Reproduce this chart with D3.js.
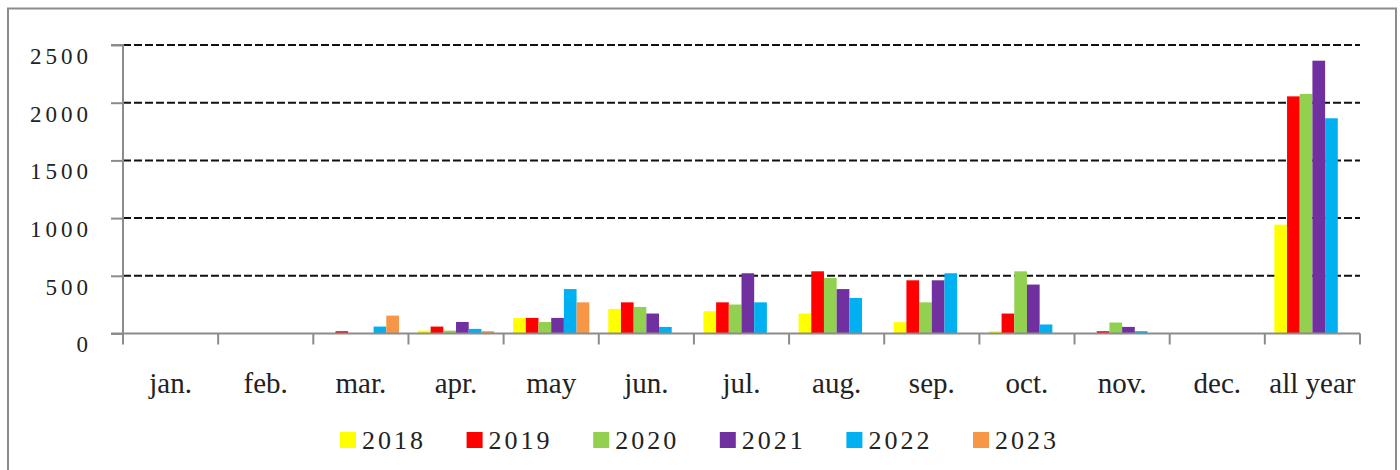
<!DOCTYPE html>
<html>
<head>
<meta charset="utf-8">
<script src="https://cdn.jsdelivr.net/npm/d3@7"></script>
<style>
  body { margin: 0; background: #fff; }
  svg { display: block; }
  text { font-family: "Liberation Serif", "DejaVu Serif", serif; fill: #222; }
</style>
</head>
<body>
<svg id="chart" width="1400" height="470"></svg>
<script>
// categories and series
const months = ['jan.', 'feb.', 'mar.', 'apr.', 'may', 'jun.', 'jul.', 'aug.', 'sep.', 'oct.', 'nov.', 'dec.', 'all year'];
const years = ['2018', '2019', '2020', '2021', '2022', '2023'];
const v2018 = [0, 0, 0, 25, 135, 213, 193, 173, 98, 20, 0, 0, 943];
const v2019 = [0, 0, 20, 60, 135, 270, 270, 539, 461, 173, 20, 0, 2055];
const v2020 = [0, 0, 0, 25, 100, 230, 251, 481, 270, 539, 95, 0, 2076];
const v2021 = [0, 0, 0, 100, 135, 173, 522, 385, 461, 424, 57, 0, 2364];
const v2022 = [0, 0, 60, 40, 385, 57, 270, 308, 522, 78, 20, 0, 1865];
const v2023 = [0, 0, 155, 20, 270, 0, 0, 0, 0, 0, 0, 0, 0];
const yTicks = [0, 500, 1000, 1500, 2000, 2500];
const yTickLabels = ['0', '500', '1000', '1500', '2000', '2500'];
const colors = ['#ffff00', '#ff0000', '#92d050', '#7030a0', '#00b0f0', '#f79646'];

const series = [v2018, v2019, v2020, v2021, v2022, v2023];

let svg = d3.select('#chart');

// outer frame
svg.append('rect')
  .attr('x', 8).attr('y', 8.5)
  .attr('width', 1388).attr('height', 480)
  .attr('fill', 'none')
  .attr('stroke', '#8c8c8c')
  .attr('stroke-width', 2);

let x0 = d3.scaleBand().domain(months).range([123, 1360]);
let x1 = d3.scaleBand().domain(years).range([9.5, x0.bandwidth() - 9.5]);
let y = d3.scaleLinear().domain([0, 2500]).range([333.5, 45]);
let color = d3.scaleOrdinal().domain(years).range(colors);

// dashed gridlines
svg.append('g')
  .selectAll('line')
  .data(yTicks.filter(d => d > 0))
  .enter().append('line')
  .attr('x1', 123).attr('x2', 1360)
  .attr('y1', d => y(d)).attr('y2', d => y(d))
  .attr('stroke', '#111')
  .attr('stroke-width', 2)
  .attr('stroke-dasharray', '8,3');

// bars
let cells = [];
months.forEach(function(m, i) {
  years.forEach(function(yr, j) {
    cells.push({month: m, year: yr, value: series[j][i]});
  });
});

svg.append('g')
  .selectAll('rect')
  .data(cells.filter(d => d.value > 0))
  .enter().append('rect')
  .attr('x', d => x0(d.month) + x1(d.year))
  .attr('width', x1.bandwidth())
  .attr('y', d => y(d.value))
  .attr('height', d => y(0) - y(d.value))
  .attr('fill', d => color(d.year));

// y axis
let yAxis = d3.axisLeft(y)
  .tickValues(yTicks)
  .tickSize(12)
  .tickPadding(19)
  .tickFormat((d, i) => yTickLabels[i]);

let gy = svg.append('g')
  .attr('transform', 'translate(123,0)')
  .call(yAxis);
gy.select('.domain').attr('stroke', '#8c8c8c').attr('stroke-width', 2)
  .attr('d', 'M-12,45H0V' + y(0));
gy.selectAll('.tick line').attr('stroke', '#8c8c8c').attr('stroke-width', 2);
gy.selectAll('.tick text')
  .attr('font-size', 23)
  .attr('letter-spacing', 4)
  .attr('dy', '0.8em')
  .style('font-family', '"Liberation Serif", serif')
  .attr('fill', '#222');

// x axis: ticks on category boundaries
let boundaries = months.map(m => x0(m)).concat([x0.range()[1]]);
let gx = svg.append('g');
gx.append('line')
  .attr('x1', 111).attr('x2', 1360)
  .attr('y1', y(0)).attr('y2', y(0))
  .attr('stroke', '#8c8c8c').attr('stroke-width', 2);
gx.selectAll('line.tick')
  .data(boundaries)
  .enter().append('line')
  .attr('class', 'tick')
  .attr('x1', d => d).attr('x2', d => d)
  .attr('y1', y(0)).attr('y2', y(0) + 11)
  .attr('stroke', '#8c8c8c').attr('stroke-width', 2);
gx.selectAll('text')
  .data(months)
  .enter().append('text')
  .attr('x', d => x0(d) + x0.bandwidth() / 2)
  .attr('y', 393)
  .attr('text-anchor', 'middle')
  .attr('font-size', 29)
  .text(d => d);

// legend
let legend = svg.append('g')
  .selectAll('g')
  .data(years)
  .enter().append('g')
  .attr('transform', (d, i) => 'translate(' + (340 + i * 126.6) + ',432)');
legend.append('rect')
  .attr('width', 16).attr('height', 16)
  .attr('fill', d => color(d));
legend.append('text')
  .attr('x', 22).attr('y', 17)
  .attr('font-size', 26)
  .attr('letter-spacing', 3)
  .text(d => d);
</script>
</body>
</html>
